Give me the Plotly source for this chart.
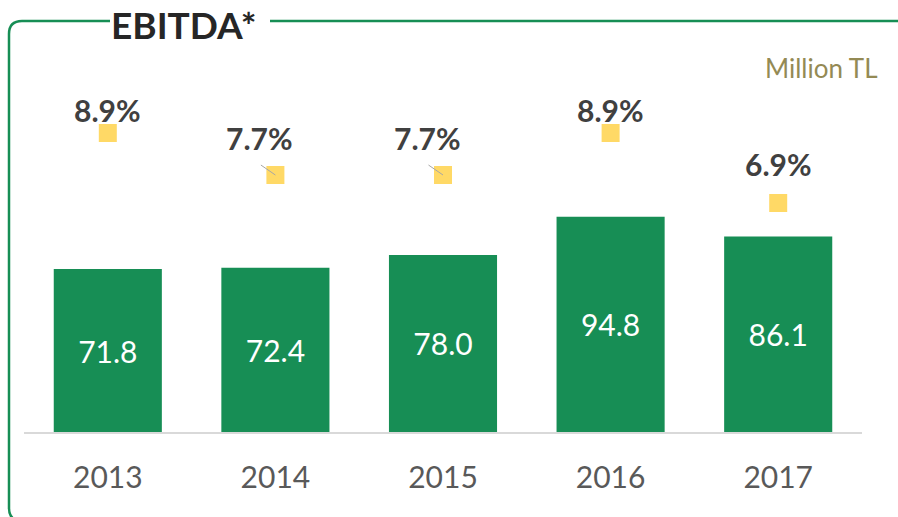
import plotly.graph_objects as go

W, H = 898, 517

GREEN = "#178E55"
YELLOW = "#FFD966"
DARK = "#404040"
AXIS_TEXT = "#595959"
OLIVE = "#948A54"
FONT = "Lato"

years = ["2013", "2014", "2015", "2016", "2017"]
ebitda = [71.8, 72.4, 78.0, 94.8, 86.1]
margin_pct = [8.9, 7.7, 7.7, 8.9, 6.9]


def px(x):
    return x / W


def py(y):
    return 1 - y / H


fig = go.Figure()
fig.add_trace(go.Bar(
    x=years, y=ebitda, marker_color=GREEN, marker_line_width=0,
    text=[f"{v:.1f}" for v in ebitda], textposition="inside", insidetextanchor="middle",
    textfont=dict(color="white", size=30, family=FONT), textangle=0,
))
fig.add_trace(go.Scatter(
    x=years, y=margin_pct, yaxis="y2", mode="markers",
    marker=dict(symbol="square", size=18, color=YELLOW, line_width=0),
))

# margin labels, the two 7.7% ones sit up-left with a small leader line
for i, v in enumerate(margin_pct):
    leader = v == 7.7
    fig.add_annotation(
        x=i, y=v, xref="x", yref="y2", text=f"<b>{v:.1f}%</b>", showarrow=False,
        font=dict(size=30, color=DARK, family=FONT),
        xshift=-16 if leader else 0, yshift=37 if leader else (39 if v < 7.5 else 23),
    )
    if leader:
        fig.add_annotation(
            x=i, y=v, xref="x", yref="y2", text="", showarrow=True,
            arrowhead=0, arrowwidth=1, arrowcolor="#A6A6A6", ax=-16, ay=-11,
        )

fig.add_annotation(x=px(880), y=py(68), xref="paper", yref="paper", xanchor="right", yanchor="middle",
                   text="Million TL", showarrow=False, font=dict(size=26, color=OLIVE, family=FONT))
fig.add_annotation(x=px(183), y=py(25), xref="paper", yref="paper", xanchor="center", yanchor="middle",
                   text="<b>EBITDA*</b>", showarrow=False, font=dict(size=37, color="#262626", family=FONT))

# green frame with a gap for the title
frame = (f"M {px(110)},{py(21)} L {px(22)},{py(21)} Q {px(9)},{py(21)} {px(9)},{py(34)} "
         f"L {px(9)},{py(508)} Q {px(9)},{py(521)} {px(22)},{py(521)} L {px(905)},{py(521)} "
         f"M {px(270)},{py(21)} L {px(905)},{py(21)}")
fig.add_shape(type="path", path=frame, xref="paper", yref="paper", line=dict(color=GREEN, width=2.5))

fig.update_layout(
    width=W, height=H, margin=dict(l=0, r=0, t=0, b=0),
    paper_bgcolor="white", plot_bgcolor="white", showlegend=False,
    bargap=0.355,
    xaxis=dict(type="category", domain=[px(24), px(862)], range=[-0.5, 4.5], showgrid=False, showline=True,
               linecolor="#D9D9D9", linewidth=2, ticks="outside", ticklen=18, tickcolor="rgba(0,0,0,0)",
               tickfont=dict(size=30, color=AXIS_TEXT, family=FONT)),
    yaxis=dict(domain=[py(432), 1], range=[0, 190.3], visible=False),
    yaxis2=dict(overlaying="y", range=[0.357, 12.7], visible=False),
)

fig.write_html("out.html", config={"displayModeBar": False},
               post_script="document.body.style.margin='0';")
